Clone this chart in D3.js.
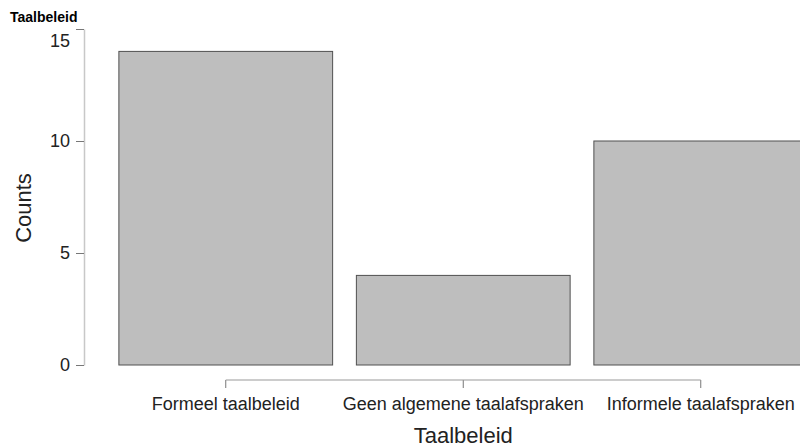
<!DOCTYPE html>
<html>
<head>
<meta charset="utf-8">
<script src="https://cdn.jsdelivr.net/npm/d3@7"></script>
<style>
  body { margin: 0; background: #fff; }
  svg { font-family: "Liberation Sans", Arial, sans-serif; }
</style>
</head>
<body>
<div id="chart"></div>
<script>
let categories = ["Formeel taalbeleid", "Geen algemene taalafspraken", "Informele taalafspraken"];
let counts = [14, 4, 10];
let yTicks = [0, 5, 10, 15];

let plotData = categories.map((c, i) => ({"cat": c, "val": counts[i]}));

let width = 800, height = 448;

let svg = d3.select("#chart")
            .append("svg")
                .attr("width", width)
                .attr("height", height);

let x = d3.scaleBand()
            .domain(categories)
            .range([107, 819.5])
            .paddingInner(0.1)
            .paddingOuter(0.05);

let y = d3.scaleLinear()
            .domain([0, 15])
            .range([365, 29]);

// title
svg.append("text")
    .attr("x", 10)
    .attr("y", 22)
    .style("font-size", "14px")
    .style("font-weight", "bold")
    .text("Taalbeleid");

// bars
svg.selectAll("rect.bar")
    .data(plotData)
    .join("rect")
    .attr("class", "bar")
    .attr("x", d => x(d.cat))
    .attr("y", d => y(d.val))
    .attr("width", x.bandwidth())
    .attr("height", d => y(0) - y(d.val))
    .attr("fill", "#bebebe")
    .attr("stroke", "#505050")
    .attr("stroke-width", 1);

// y axis
let yAxis = svg.append("g")
    .attr("transform", "translate(84,0)")
    .call(d3.axisLeft(y).tickValues(yTicks).tickSize(8).tickSizeOuter(0).tickPadding(6));
yAxis.select(".domain").attr("stroke", "#c8c8c8").attr("stroke-width", 1.5);
yAxis.selectAll(".tick line").attr("stroke", "#777");
yAxis.selectAll(".tick text").style("font-size", "18px").attr("fill", "#222");
// top label sits a bit lower in the original, clear of the title
yAxis.selectAll(".tick text").filter(d => d === yTicks[yTicks.length - 1]).attr("y", 12);

// x axis
let xAxis = svg.append("g")
    .attr("transform", "translate(0,380)")
    .call(d3.axisBottom(x).tickSize(8).tickSizeOuter(0).tickPadding(9));
xAxis.select(".domain").remove();
xAxis.append("line")
    .attr("x1", x(categories[0]) + x.bandwidth() / 2)
    .attr("x2", x(categories[categories.length - 1]) + x.bandwidth() / 2)
    .attr("stroke", "#999");
xAxis.selectAll(".tick line").attr("stroke", "#777");
xAxis.selectAll(".tick text").style("font-size", "18px").attr("fill", "#222");

// axis titles
svg.append("text")
    .attr("x", x(categories[1]) + x.bandwidth() / 2)
    .attr("y", 443)
    .attr("text-anchor", "middle")
    .style("font-size", "22px")
    .attr("fill", "#222")
    .text("Taalbeleid");

svg.append("text")
    .attr("transform", "translate(31,208)rotate(-90)")
    .attr("text-anchor", "middle")
    .style("font-size", "22px")
    .attr("fill", "#222")
    .text("Counts");
</script>
</body>
</html>
